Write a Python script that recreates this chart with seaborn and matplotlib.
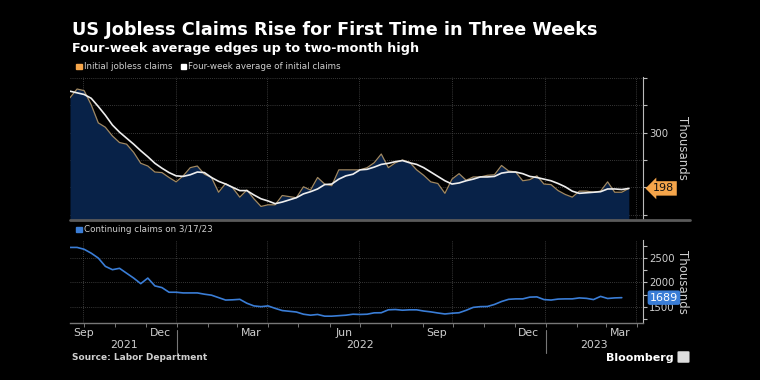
import matplotlib.pyplot as plt
import matplotlib.dates as mdates
import matplotlib.transforms as mtransforms
from matplotlib.lines import Line2D
from matplotlib.patches import Patch, FancyBboxPatch
import pandas as pd
import seaborn as sns

# weekly readings (thousands), week 0 = 2021-09-17
first_week = '2021-09-17'
initial_claims = [364, 380, 377, 351, 318, 310, 294, 282, 279, 264,
                  244, 239, 228, 227, 218, 210, 221, 236, 239, 224,
                  218, 191, 207, 199, 182, 195, 179, 165, 168, 168,
                  185, 183, 181, 201, 195, 218, 206, 203, 232, 232,
                  232, 232, 236, 245, 261, 236, 245, 250, 246, 232,
                  222, 210, 207, 189, 215, 225, 213, 219, 219, 222,
                  223, 240, 230, 228, 212, 214, 221, 206, 205, 194,
                  187, 182, 193, 193, 191, 193, 210, 191, 191, 198]
four_week_avg = [376, 373, 370, 363, 348, 332, 314, 301, 290, 279,
                 267, 256, 244, 235, 227, 221, 220, 223, 228, 227,
                 218, 211, 206, 200, 194, 194, 186, 179, 175, 170,
                 173, 177, 181, 188, 192, 197, 205, 206, 215, 221,
                 224, 232, 233, 237, 242, 244, 247, 249, 245, 242,
                 236, 228, 220, 212, 206, 208, 212, 215, 219, 219,
                 220, 226, 228, 228, 225, 220, 218, 215, 212, 207,
                 201, 193, 189, 190, 191, 192, 197, 197, 196, 198]
continuing_claims = [2718, 2718, 2680, 2600, 2500, 2330, 2262, 2290, 2190, 2090,
                     1976, 2090, 1930, 1895, 1800, 1800, 1786, 1786, 1786, 1760,
                     1740, 1690, 1640, 1645, 1655, 1575, 1520, 1505, 1520, 1470,
                     1425, 1410, 1395, 1350, 1330, 1345, 1310, 1310, 1320, 1330,
                     1350, 1345, 1350, 1378, 1380, 1440, 1446, 1432, 1440, 1440,
                     1415, 1398, 1375, 1355, 1370, 1380, 1430, 1490, 1505, 1508,
                     1550, 1610, 1655, 1664, 1664, 1700, 1705, 1650, 1640, 1660,
                     1664, 1664, 1684, 1675, 1650, 1715, 1672, 1684, 1689]
month_labels = ['Sep', 'Dec', 'Mar', 'Jun', 'Sep', 'Dec', 'Mar']
month_label_dates = ['2021-09-30', '2021-12-15', '2022-03-15', '2022-06-15',
                     '2022-09-15', '2022-12-15', '2023-03-15']
quarter_ends = ['2021-09-30', '2021-12-31', '2022-03-31', '2022-06-30',
                '2022-09-30', '2022-12-31', '2023-03-31']
year_labels = ['2021', '2022', '2023']
year_label_dates = ['2021-11-09', '2022-07-01', '2023-02-18']
year_breaks = ['2022-01-01', '2023-01-01']

dates_initial = pd.date_range(first_week, periods=len(initial_claims), freq='7D')
dates_cont = pd.date_range(first_week, periods=len(continuing_claims), freq='7D')
x_range = (pd.Timestamp('2021-09-17'), pd.Timestamp('2023-04-07'))

BG = 'black'
GRID = '#4a4a4a'
TXT = '#cfcfcf'
ORANGE = '#f5a54a'
NAVY = '#082248'
TAN = '#a08862'
BLUE = '#3a7dd6'

sns.set_theme(style='dark', rc={'axes.facecolor': BG, 'figure.facecolor': BG,
                                'axes.edgecolor': '#888888', 'text.color': TXT,
                                'xtick.color': TXT, 'ytick.color': TXT})
plt.rcParams['font.family'] = ['DejaVu Sans']

fig = plt.figure(figsize=(7.6, 3.8), dpi=100)
W, H = 760, 380
ax1 = fig.add_axes([70 / W, 1 - 219 / H, 573 / W, 142 / H])
ax2 = fig.add_axes([70 / W, 1 - 323 / H, 573 / W, 83 / H])

# --- top panel
ax1.fill_between(dates_initial, initial_claims, 0, color=NAVY, lw=0, zorder=1)
sns.lineplot(x=dates_initial, y=initial_claims, ax=ax1, color=TAN, lw=0.9, zorder=2)
sns.lineplot(x=dates_initial, y=four_week_avg, ax=ax1, color='#eeeeee', lw=1.2, zorder=3)
ax1.set_ylim(142, 402)
ax1.set_yticks([150, 200, 250, 300, 350, 400])
ax1.set_yticklabels(['', '', '', '300', '', ''])

# --- bottom panel
sns.lineplot(x=dates_cont, y=continuing_claims, ax=ax2, color=BLUE, lw=1.2, zorder=3)
ax2.set_ylim(1170, 2870)
ax2.set_yticks([1500, 2000, 2500])
ax2.set_yticks([1250, 1750, 2250, 2750], minor=True)

for ax in (ax1, ax2):
    ax.set_xlim(*x_range)
    ax.set_xlabel('')
    ax.yaxis.tick_right()
    ax.yaxis.set_label_position('right')
    ax.set_ylabel('Thousands', rotation=270, fontsize=8.5, color=TXT)
    ax.yaxis.set_label_coords(1.08, 0.5)
    ax.tick_params(axis='y', which='both', direction='out', length=3, width=0.8,
                   color='#bbbbbb', labelsize=7.3, pad=1.5, right=True, left=False)
    ax.set_xticks(pd.to_datetime(quarter_ends))
    ax.set_xticklabels([])
    ax.tick_params(axis='x', which='major', length=0)
    ax.grid(True, which='major', color=GRID, ls=(0, (1, 1.5)), lw=0.6)
    for s in ('top', 'left'):
        ax.spines[s].set_visible(False)
    ax.spines['right'].set_color('#bbbbbb')
    ax.spines['right'].set_linewidth(0.8)

ax1.spines['bottom'].set_visible(False)
fig.add_artist(Line2D([70 / W, 690 / W], [1 - 219.5 / H] * 2, color='#5a5a5a', lw=2))
ax2.spines['bottom'].set_color('#777777')
ax2.spines['bottom'].set_linewidth(1.0)
ax2.xaxis.set_minor_locator(mdates.MonthLocator())
ax2.tick_params(axis='x', which='minor', bottom=True, length=3, color='#777777', width=0.7)

# month / year labels
tr = mtransforms.blended_transform_factory(ax2.transData, ax2.transAxes)
for d, lab in zip(month_label_dates, month_labels):
    ax2.text(pd.Timestamp(d), -0.06, lab, transform=tr, ha='center', va='top',
             fontsize=7.8, color=TXT)
for d, lab in zip(year_label_dates, year_labels):
    ax2.text(pd.Timestamp(d), -0.27, lab, transform=tr, ha='center', va='center',
             fontsize=7.8, color=TXT)
for d in year_breaks:
    ax2.plot([pd.Timestamp(d)] * 2, [-0.09, -0.36], transform=tr, color='#777777',
             lw=0.8, clip_on=False)

# end-value tags
tr1 = mtransforms.blended_transform_factory(ax1.transAxes, ax1.transData)
ax1.text(1.018, initial_claims[-1], f'{initial_claims[-1]}', transform=tr1,
         ha='left', va='center', fontsize=8, color='#111111', zorder=10,
         bbox=dict(boxstyle='larrow,pad=0.2', fc=ORANGE, ec='none'))
tr2 = mtransforms.blended_transform_factory(ax2.transAxes, ax2.transData)
ax2.text(1.012, continuing_claims[-1], f'{continuing_claims[-1]}', transform=tr2,
         ha='left', va='center', fontsize=8, color='white', zorder=10,
         bbox=dict(boxstyle='round,pad=0.2', fc=BLUE, ec='none'))

# legends
leg_kw = dict(loc='lower left', frameon=False, handlelength=0.6, handleheight=0.6,
              handletextpad=0.3, columnspacing=0.9, fontsize=6.3, labelcolor=TXT,
              borderaxespad=0)
ax1.legend([Patch(color=ORANGE), Patch(color='white')],
           ['Initial jobless claims', 'Four-week average of initial claims'],
           ncol=2, bbox_to_anchor=(0.005, 1.015), **leg_kw)
ax2.legend([Patch(color=BLUE)], ['Continuing claims on 3/17/23'],
           bbox_to_anchor=(0.005, 1.025), **leg_kw)

# titles and footer
fig.text(72 / W, 1 - 35 / H, 'US Jobless Claims Rise for First Time in Three Weeks',
         fontsize=12.7, fontweight='bold', color='white', va='baseline')
fig.text(72 / W, 1 - 52 / H, 'Four-week average edges up to two-month high',
         fontsize=9.2, fontweight='bold', color='white', va='baseline')
fig.text(72 / W, 1 - 360 / H, 'Source: Labor Department', fontsize=6.5,
         fontweight='bold', color=TXT, va='baseline')
fig.text(674 / W, 1 - 361 / H, 'Bloomberg', fontsize=8, fontweight='bold',
         color='white', va='baseline', ha='right')
fig.add_artist(FancyBboxPatch((679 / W, 1 - 362 / H), 9 / W, 10 / H,
                              boxstyle='round,pad=0.002', fc='#dddddd', ec='none',
                              transform=fig.transFigure))

fig.savefig('out.png', dpi=100, facecolor=BG)
